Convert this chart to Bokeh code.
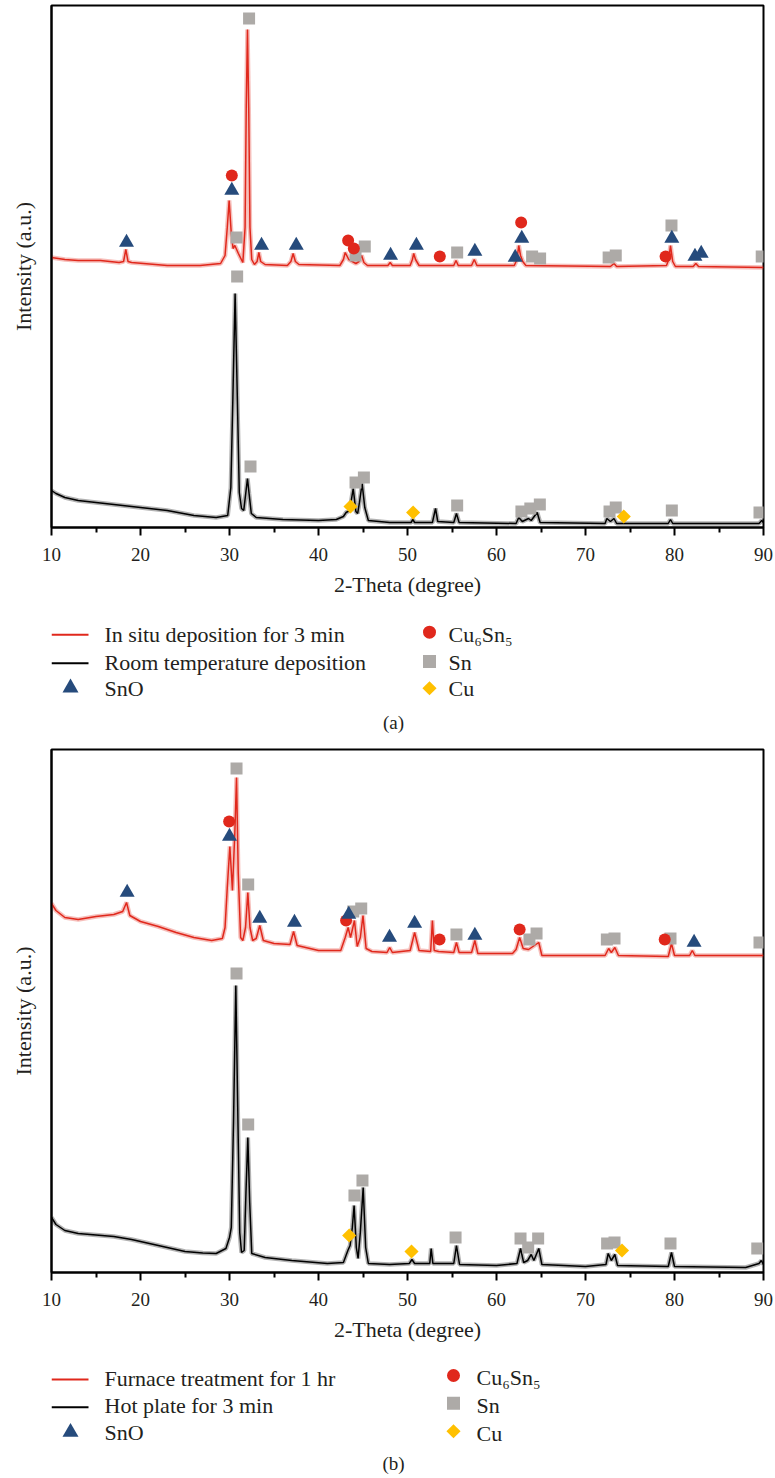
from bokeh.plotting import figure
from bokeh.models import Range1d, FixedTicker
from bokeh.layouts import column
from bokeh.embed import file_html
from bokeh.resources import INLINE
from bokeh.core.properties import value
import math

# ---------------- data: panel (a) ----------------
# (2-theta in degree, intensity in a.u.)
RED_A = [(10, 270), (11.5, 268), (13, 267), (15.5, 267), (17.6, 265), (18.1, 266), (18.35, 278), (18.6, 266),
         (19.0, 265), (23.0, 262), (26.7, 262), (29.0, 264), (29.5, 272), (29.75, 300), (29.96, 327), (30.2, 294),
         (30.4, 279), (30.6, 282), (31.0, 274), (31.5, 265), (31.75, 300), (31.88, 420), (32.02, 498), (32.16, 420),
         (32.3, 300), (32.5, 268), (32.8, 263), (33.1, 266), (33.3, 275), (33.5, 266), (34.0, 263), (36.5, 262),
         (36.9, 266), (37.15, 274), (37.4, 266), (37.8, 263), (42.4, 262), (42.8, 268), (43.0, 275), (43.4, 268),
         (44.2, 264), (44.55, 266), (44.85, 272), (45.1, 265), (45.5, 262), (47.8, 262), (48.05, 265), (48.3, 262),
         (50.3, 262), (50.55, 268), (50.7, 274), (50.9, 268), (51.3, 262), (55.2, 262), (55.45, 267), (55.7, 262),
         (57.2, 262), (57.5, 268), (57.8, 262), (62.0, 262), (62.3, 268), (62.5, 282), (62.7, 272), (62.95, 266),
         (63.3, 262), (72.8, 261), (73.2, 264), (73.5, 261), (79.1, 262), (79.35, 268), (79.55, 282), (79.8, 266),
         (80.1, 261), (82.1, 261), (82.4, 264), (82.7, 261), (90, 260)]
BLACK_A = [(10, 37), (10.5, 34), (11.5, 30), (13, 27), (15, 25), (18, 22), (20, 20), (23, 17), (26, 12), (28.5, 10),
           (29.8, 12), (30.15, 40), (30.38, 130), (30.63, 234), (30.88, 130), (31.1, 35), (31.35, 19), (31.6, 17),
           (31.85, 36), (32.02, 49), (32.2, 34), (32.45, 14), (33, 10), (36, 8), (40, 7), (42, 8), (42.8, 11),
           (43.1, 15), (43.5, 17), (43.9, 39), (44.2, 16), (44.4, 14), (44.6, 25), (44.9, 44), (45.2, 20), (45.6, 7),
           (48, 5), (50.4, 5), (50.6, 8), (50.8, 5), (52.8, 5), (53.15, 19), (53.4, 6), (55.2, 5), (55.5, 14),
           (55.8, 5), (62.2, 4), (62.5, 10), (62.9, 6), (63.6, 9), (63.9, 7), (64.57, 15), (64.9, 5), (72.2, 4),
           (72.4, 9), (72.8, 6), (73.2, 9), (73.5, 4), (79.3, 4), (79.55, 8), (79.8, 4), (89.5, 4), (89.8, 7), (90, 5)]
SNO_A = [(18.43, 285), (30.26, 337), (33.6, 282), (37.5, 282), (48.1, 272), (51.0, 282), (57.57, 276),
         (62.1, 270), (62.84, 289), (79.7, 289), (82.3, 271), (83.0, 274)]
CU6SN5_A = [(30.26, 352), (43.33, 287), (43.97, 279), (53.63, 271), (62.77, 305), (79.0, 271)]
SN_A = [(30.79, 290), (32.2, 509), (44.16, 272), (45.2, 281), (55.58, 275), (64.0, 271), (64.9, 269),
        (72.6, 270), (73.4, 272), (79.66, 302), (89.8, 271),
        (30.86, 251), (32.36, 61), (44.16, 45), (45.1, 50), (55.58, 22), (62.8, 16), (63.8, 19), (64.87, 23),
        (72.7, 16), (73.4, 20), (79.7, 17), (89.55, 15)]
CU_A = [(43.6, 21), (50.63, 15), (74.3, 11)]

# ---------------- data: panel (b) ----------------
RED_B = [(10, 369), (10.5, 362), (11.5, 355), (13, 353), (15, 356), (17, 358), (18.0, 361), (18.43, 370),
         (18.8, 357), (20, 351), (22, 346), (24, 340), (26, 335), (28, 332), (29.2, 334), (29.5, 345), (29.75, 385),
         (30.04, 426), (30.33, 382), (30.6, 440), (30.79, 495), (30.98, 400), (31.25, 335), (31.5, 332), (31.8, 345),
         (32.06, 380), (32.3, 345), (32.6, 332), (33.0, 334), (33.4, 347), (33.8, 332), (35, 329), (36.8, 328),
         (37.2, 341), (37.6, 327), (40, 322), (42.5, 322), (43.0, 335), (43.33, 345), (43.6, 335), (44.04, 352),
         (44.35, 326), (44.7, 335), (45.0, 357), (45.35, 324), (46, 321), (47.7, 320), (48.0, 325), (48.3, 320),
         (50.3, 322), (50.8, 340), (51.3, 322), (52.6, 321), (52.8, 352), (53.0, 322), (53.5, 321), (55.2, 320),
         (55.5, 330), (55.8, 320), (57.2, 320), (57.57, 332), (57.9, 319), (61.8, 319), (62.2, 323), (62.6, 335),
         (63.0, 324), (63.6, 323), (64.75, 330), (65.1, 317), (72.2, 317), (72.6, 324), (72.9, 320), (73.3, 325),
         (73.7, 317), (79.3, 316), (79.66, 329), (80.0, 317), (81.7, 317), (82.0, 322), (82.3, 317), (90, 317)]
BLACK_B = [(10, 55), (10.5, 48), (11.5, 42), (13, 39), (15, 37.5), (17, 36), (19, 33), (21, 29), (23, 25), (25, 21),
           (27, 19.5), (28.5, 19), (29.6, 24), (30.0, 35), (30.2, 45), (30.45, 150), (30.71, 287), (30.95, 150),
           (31.15, 40), (31.35, 20), (31.65, 22), (31.85, 80), (32.06, 135), (32.27, 70), (32.5, 19), (34, 15),
           (37, 12), (41, 9), (42.8, 10), (43.3, 22), (43.55, 27), (43.8, 45), (44.0, 67), (44.25, 25), (44.45, 14),
           (44.7, 40), (45.02, 85), (45.3, 25), (45.6, 9), (48, 8), (50.2, 9), (50.5, 13), (50.8, 9), (52.5, 9),
           (52.66, 24), (52.85, 9), (55.2, 9), (55.5, 27), (55.85, 8), (60, 7), (62.3, 9), (62.7, 24), (63.05, 10),
           (63.5, 12), (63.9, 18), (64.2, 12), (64.75, 24), (65.1, 8), (70, 6), (72.3, 8), (72.55, 19), (72.9, 12),
           (73.3, 18), (73.6, 7), (79.3, 6), (79.66, 20), (80.0, 6), (88, 5), (89.5, 9), (89.75, 12), (90, 8)]
SNO_B = [(18.5, 380), (30.0, 436), (33.4, 354), (37.3, 350), (43.4, 358), (47.98, 335), (50.8, 349),
         (57.57, 337), (82.2, 330)]
CU6SN5_B = [(29.96, 451), (43.1, 352), (53.6, 333), (62.6, 343), (78.9, 333)]
SN_B = [(30.79, 504), (32.1, 388), (43.9, 361), (44.8, 364), (55.5, 338), (63.7, 333), (64.5, 339),
        (72.4, 333), (73.26, 334), (79.55, 334), (89.55, 330),
        (30.79, 299), (32.1, 148), (44.04, 77), (44.94, 92), (55.4, 35), (62.7, 34), (63.56, 25), (64.68, 34),
        (72.43, 29), (73.26, 30), (79.55, 29), (89.3, 24)]
CU_B = [(43.45, 37), (50.45, 21), (74.1, 22)]

X_TICKS = [10, 20, 30, 40, 50, 60, 70, 80, 90]
X_MINOR = [15, 25, 35, 45, 55, 65, 75, 85]
X_TITLE = "2-Theta (degree)"
Y_TITLE = "Intensity (a.u.)"
LEG_A = ["In situ deposition for 3 min", "Room temperature deposition"]
LEG_B = ["Furnace treatment for 1 hr", "Hot plate for 3 min"]
PHASES = ["SnO", "Cu\u2086Sn\u2085", "Sn", "Cu"]

# ---------------- styles / layout ----------------
RED = "#E0281C"
NAVY = "#264B7C"
GREY = "#ADAAA7"
GOLD = "#FFC000"
TXT = "#231F20"
FONT = "Liberation Serif"
W = 775
BL, BR = 51, 12          # left / right borders -> frame spans page x 51..763
FRAME_L, FRAME_R = BL, W - BR
BB = 75                  # bottom border (tick labels + axis title)


def xs(pts):
    return [p[0] for p in pts]


def ys(pts):
    return [p[1] for p in pts]


def panel(red, black, sno, cu6, sn, cu, top_border, frame_h):
    p = figure(width=W, height=top_border + frame_h + BB,
               x_range=Range1d(10, 90), y_range=Range1d(0, frame_h),
               output_backend="svg", toolbar_location=None,
               min_border_left=BL, min_border_right=BR,
               min_border_top=top_border, min_border_bottom=BB)
    p.grid.visible = False
    p.outline_line_color = "black"
    p.outline_line_width = 2
    p.outline_line_alpha = 1
    p.background_fill_color = "white"
    p.border_fill_color = "white"

    xa = p.xaxis[0]
    xa.ticker = FixedTicker(ticks=X_TICKS, minor_ticks=X_MINOR)
    xa.axis_line_width = 2
    xa.major_tick_line_width = 2
    xa.minor_tick_line_width = 2
    xa.major_tick_out = 8
    xa.major_tick_in = 0
    xa.minor_tick_out = 5
    xa.minor_tick_in = 0
    xa.major_label_text_font = FONT
    xa.major_label_text_font_size = "19px"
    xa.major_label_text_color = TXT
    xa.major_label_standoff = 12
    xa.axis_label = X_TITLE
    xa.axis_label_text_font = FONT
    xa.axis_label_text_font_size = "22px"
    xa.axis_label_text_font_style = "normal"
    xa.axis_label_text_color = TXT
    xa.axis_label_standoff = 8

    ya = p.yaxis[0]
    ya.ticker = FixedTicker(ticks=[], minor_ticks=[])
    ya.axis_line_width = 2
    ya.major_tick_out = 0
    ya.major_tick_in = 0
    ya.minor_tick_out = 0
    ya.minor_tick_in = 0
    ya.major_label_standoff = 0
    ya.axis_label = Y_TITLE
    ya.axis_label_text_font = FONT
    ya.axis_label_text_font_size = "22px"
    ya.axis_label_text_font_style = "normal"
    ya.axis_label_text_color = TXT
    ya.axis_label_standoff = 16

    # curves (faint halo imitates the noise band of the measured pattern)
    for pts, col in ((black, "black"), (red, RED)):
        p.line(xs(pts), ys(pts), line_color=col, line_width=4.5, line_alpha=0.3)
        p.line(xs(pts), ys(pts), line_color=col, line_width=1.5)

    p.scatter(xs(sn), ys(sn), marker="square", size=12, fill_color=GREY, line_color=None)
    p.scatter(xs(cu6), ys(cu6), marker="circle", size=12, fill_color=RED, line_color=None)
    p.scatter(xs(sno), ys(sno), marker="triangle", size=15, fill_color=NAVY, line_color=None)
    p.scatter(xs(cu), ys(cu), marker="square", size=10, angle=math.pi / 4, fill_color=GOLD, line_color=None)
    return p


def legend(top, height, labels, tag, rows_left, rows_right, x_right_marker, x_right_text, tag_y):
    """rows_*: (marker/line y, text middle y) for each of the three rows, in page pixels."""
    p = figure(width=W, height=height, x_range=Range1d(FRAME_L, FRAME_R), y_range=Range1d(top + height, top),
               output_backend="svg", toolbar_location=None, x_axis_type=None, y_axis_type=None,
               min_border_left=BL, min_border_right=BR, min_border_top=0, min_border_bottom=0)
    p.grid.visible = False
    p.outline_line_color = None
    # left column
    p.line([51, 88], [rows_left[0][0]] * 2, line_color=RED, line_width=2)
    p.line([51, 88], [rows_left[1][0]] * 2, line_color="black", line_width=2)
    p.scatter([70], [rows_left[2][0]], marker="triangle", size=16, fill_color=NAVY, line_color=None)
    p.text([104, 104, 104], [r[1] for r in rows_left], text=[labels[0], labels[1], PHASES[0]],
           text_font=value(FONT), text_font_size="22px", text_color=TXT,
           text_baseline="middle", text_align="left")
    # right column
    p.scatter([x_right_marker], [rows_right[0][0]], marker="circle", size=13, fill_color=RED, line_color=None)
    p.scatter([x_right_marker], [rows_right[1][0]], marker="square", size=13, fill_color=GREY, line_color=None)
    p.scatter([x_right_marker], [rows_right[2][0]], marker="square", size=10, angle=math.pi / 4,
              fill_color=GOLD, line_color=None)
    p.text([x_right_text] * 3, [r[1] for r in rows_right], text=PHASES[1:],
           text_font=value(FONT), text_font_size="22px", text_color=TXT,
           text_baseline="middle", text_align="left")
    p.text([393], [tag_y], text=[tag], text_font=value(FONT), text_font_size="19px", text_color=TXT,
           text_baseline="middle", text_align="center")
    return p


# panel (a): frame page y 5..527 ; legend (a): 602..741 ; panel (b): frame 749..1272 ; legend (b): 1347..1476
fig_a = panel(RED_A, BLACK_A, SNO_A, CU6SN5_A, SN_A, CU_A, top_border=5, frame_h=522)
leg_a = legend(602, 139, LEG_A, "(a)",
               [(634.3, 633.7), (662.7, 661.5), (687.3, 688.3)],
               [(631.7, 633.7), (661.0, 661.5), (687.7, 688.3)], 429, 448, 722)
fig_b = panel(RED_B, BLACK_B, SNO_B, CU6SN5_B, SN_B, CU_B, top_border=8, frame_h=523)
leg_b = legend(1347, 129, LEG_B, "(b)",
               [(1379.0, 1377.7), (1406.7, 1405.4), (1431.7, 1431.7)],
               [(1375.0, 1377.0), (1402.7, 1404.7), (1430.7, 1432.7)], 453, 476, 1463)

layout = column(fig_a, leg_a, fig_b, leg_b, spacing=0)
open("out.html", "w").write(file_html(layout, INLINE))
